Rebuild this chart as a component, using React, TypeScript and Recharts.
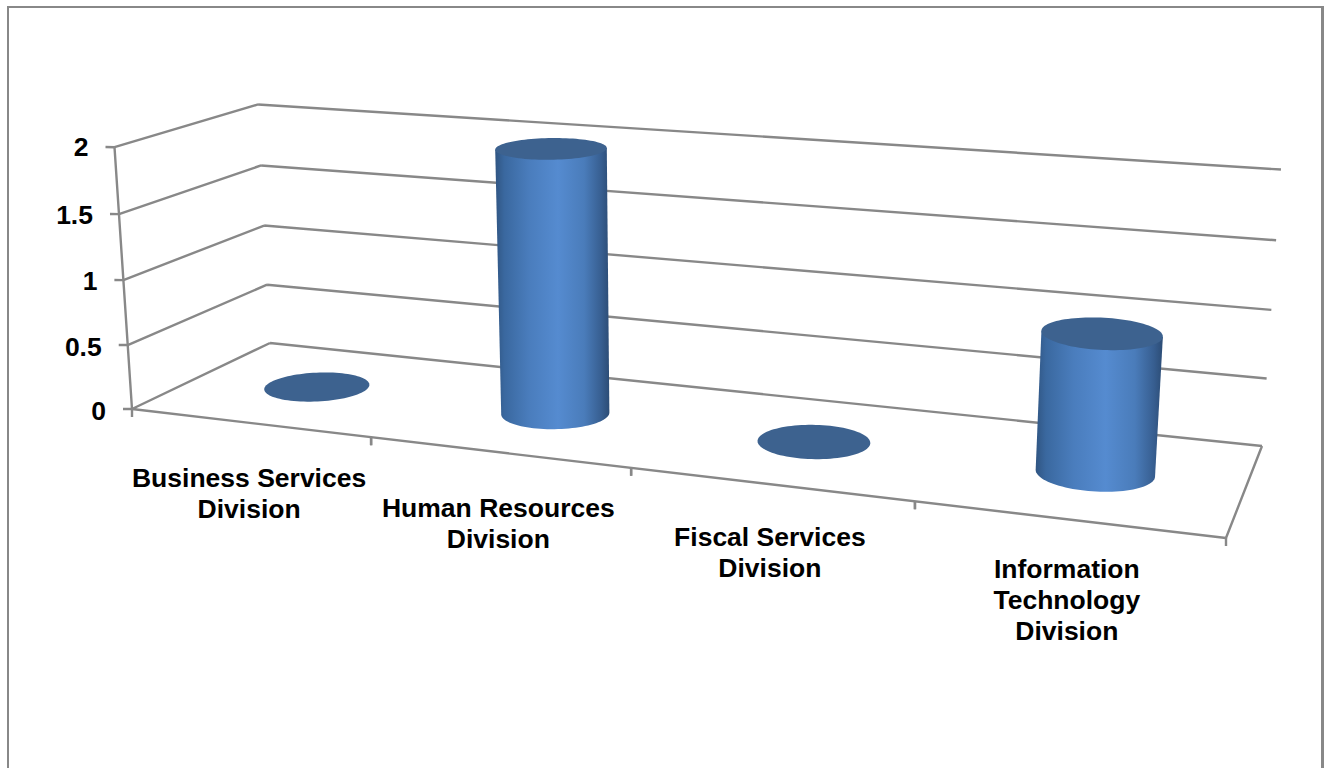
import React from "react";
import { ComposedChart, Bar, XAxis, YAxis, CartesianGrid } from "recharts";

const categories = ["Business Services Division", "Human Resources Division", "Fiscal Services Division", "Information Technology Division"];
const labelLines = [["Business Services", "Division"], ["Human Resources", "Division"], ["Fiscal Services", "Division"], ["Information", "Technology", "Division"]];
const values = [0, 2, 0, 1];
const yTicks = [0, 0.5, 1, 1.5, 2];
const chartData = categories.map((name, i) => ({ name, value: values[i] }));

const W = 1327, H = 768;
const PLOT = { left: 132, right: 1226, top: 147, bottom: 409 };
const plotW = PLOT.right - PLOT.left;
const plotH = PLOT.bottom - PLOT.top;
const GRID = "#888888";
const FONT = "'Liberation Sans', Arial, sans-serif";
const LABEL_NUDGE = [64, 65, 62, 59];

// floor plane of the 3D box: (u along categories, d into depth) -> screen
const Q = [[132, 409], [1226, 538], [1262, 446], [270, 343]];
const VP = [691, 8773];
const homography = (() => {
  const [[x0, y0], [x1, y1], [x2, y2], [x3, y3]] = Q;
  const dx1 = x1 - x2, dx2 = x3 - x2, sx = x0 - x1 + x2 - x3;
  const dy1 = y1 - y2, dy2 = y3 - y2, sy = y0 - y1 + y2 - y3;
  const den = dx1 * dy2 - dx2 * dy1;
  const g = (sx * dy2 - dx2 * sy) / den, h = (dx1 * sy - sx * dy1) / den;
  return { a: x1 - x0 + g * x1, b: x3 - x0 + h * x3, c: x0, d: y1 - y0 + g * y1, e: y3 - y0 + h * y3, f: y0, g, h };
})();
const floor = (u: number, d: number) => {
  const m = homography;
  const w = m.g * u + m.h * d + 1;
  return [(m.a * u + m.b * d + m.c) / w, (m.d * u + m.e * d + m.f) / w];
};
const warp = (t: number) => (0.97 * t) / (1 - 0.03 * t);
const project = (u: number, d: number, t: number) => {
  const [x, y] = floor(u, d);
  const k = 1 + (0.0313 + 0.0049 * u - 0.0030 * d) * warp(t);
  return [VP[0] + (x - VP[0]) * k, VP[1] + (y - VP[1]) * k];
};
const line = (a: number[], b: number[]) => `M${a[0]},${a[1]}L${b[0]},${b[1]}`;

const CIRCLE_U = 0.05, CIRCLE_D = 0.2, DEPTH = 0.5;
const ring = (u: number, t: number) => {
  const pts: number[][] = [];
  for (let i = 0; i < 96; i++) {
    const a = (i / 96) * Math.PI * 2;
    pts.push(project(u + CIRCLE_U * Math.cos(a), DEPTH + CIRCLE_D * Math.sin(a), t));
  }
  return pts;
};
const toPath = (pts: number[][]) =>
  pts.map((p, i) => `${i ? "L" : "M"}${p[0].toFixed(2)},${p[1].toFixed(2)}`).join("") + "Z";

const Cylinder = (props: any) => {
  const { x, width, height } = props;
  const u = (x + width / 2 - PLOT.left) / plotW;
  const t = Math.max(0, (height || 0) / plotH);
  const top = ring(u, t);
  if (t === 0) return <path d={toPath(top)} fill="#3d628f" />;
  const base = ring(u, 0);
  // silhouette: front arc of the base between its leftmost and rightmost points
  let li = 0, ri = 0;
  base.forEach((p, i) => {
    if (p[0] < base[li][0]) li = i;
    if (p[0] > base[ri][0]) ri = i;
  });
  const arc: number[][] = [];
  for (let i = li; ; i = (i + 1) % base.length) {
    arc.push(base[i]);
    if (i === ri) break;
  }
  const body = [...arc, top[ri], top[li]];
  return (
    <g>
      <path d={toPath(body)} fill="url(#cyl)" />
      <path d={toPath(top)} fill="#3d628f" />
    </g>
  );
};

const GridLine = (props: any) => {
  const t = (PLOT.bottom - props.y1) / plotH;
  const front = project(0, 0, t), back = project(0, 1, t), right = project(1, 1, t);
  let d = line(front, back) + line(back, right) + line([front[0] - 9, PLOT.bottom - warp(t) * plotH], front);
  if (t < 0.001) {
    d += line(floor(0, 0), floor(1, 0)) + line(floor(1, 0), floor(1, 1));
    d += line(project(0, 0, 0), project(0, 0, 1));
  }
  return <path d={d} fill="none" stroke={GRID} strokeWidth={2.4} />;
};

const YTick = (props: any) => {
  const { y, payload } = props;
  const t = (PLOT.bottom - y) / plotH;
  const p = project(0, 0, t);
  return (
    <text x={p[0] - 26} y={p[1]} dy={9 + (1 - t) * 2} textAnchor="end" fontFamily={FONT} fontWeight={700} fontSize={26.5} fill="#000">
      {payload.value}
    </text>
  );
};

const XTick = (props: any) => {
  const { x, payload, index } = props;
  const u = (x - PLOT.left) / plotW;
  const halfBand = 0.125;
  const p = floor(u, 0);
  const a = floor(u - halfBand, 0);
  const b = floor(u + halfBand, 0);
  const lines = labelLines[index] || [payload.value];
  return (
    <g>
      <path d={line(a, [a[0], a[1] + 8]) + line(b, [b[0], b[1] + 8])} stroke={GRID} strokeWidth={2.4} fill="none" />
      <text x={p[0]} y={p[1] + LABEL_NUDGE[index]} textAnchor="middle" fontFamily={FONT} fontWeight={700} fontSize={26.5} fill="#000">
        {lines.map((l: string, i: number) => (
          <tspan key={i} x={p[0]} dy={i ? 31 : 0}>{l}</tspan>
        ))}
      </text>
    </g>
  );
};

export default function App() {
  return (
    <div style={{ position: "fixed", left: 0, top: 0, width: W, height: H, overflow: "hidden", background: "#fff" }}>
      <div style={{ position: "absolute", left: 7, top: 6, width: 1312, height: 900, borderLeft: "2px solid #888", borderTop: "2px solid #888", borderRight: "3px solid #888" }} />
      <div style={{ position: "absolute", left: 0, top: 0 }}>
        <ComposedChart
          width={W}
          height={H}
          data={chartData}
          margin={{ left: PLOT.left - 1, right: W - PLOT.right, top: PLOT.top, bottom: H - PLOT.bottom - 1 }}
        >
          <defs>
            <linearGradient id="cyl" x1="0" y1="0" x2="1" y2="0">
              <stop offset="0" stopColor="#305582" />
              <stop offset="0.08" stopColor="#3a689f" />
              <stop offset="0.3" stopColor="#4a7dbd" />
              <stop offset="0.55" stopColor="#558bd0" />
              <stop offset="0.78" stopColor="#4a7cba" />
              <stop offset="0.93" stopColor="#375e90" />
              <stop offset="1" stopColor="#2c4c75" />
            </linearGradient>
          </defs>
          <CartesianGrid horizontal={(p: any) => <GridLine key={p.key ?? p.index} {...p} />} vertical={false} />
          <XAxis dataKey="name" height={1} axisLine={false} tickLine={false} interval={0} tick={(p: any) => <XTick {...p} />} />
          <YAxis type="number" domain={[0, 2]} ticks={yTicks} width={1} axisLine={false} tickLine={false} interval={0} tick={(p: any) => <YTick {...p} />} />
          <Bar dataKey="value" isAnimationActive={false} shape={(p: any) => <Cylinder {...p} />} />
        </ComposedChart>
      </div>
    </div>
  );
}
